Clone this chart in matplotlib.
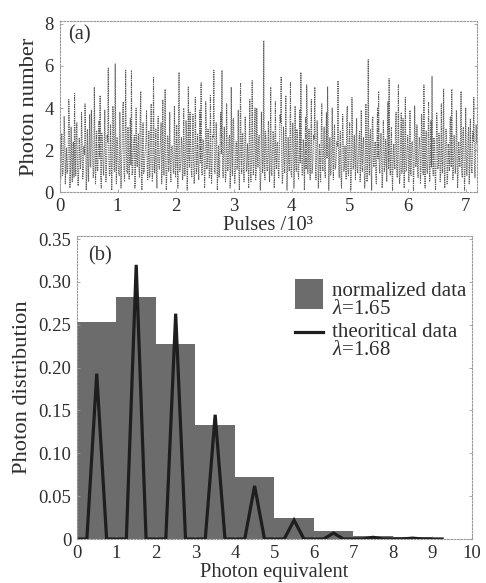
import matplotlib
matplotlib.use("Agg")
import matplotlib.pyplot as plt
from matplotlib.patches import Rectangle
from matplotlib.legend_handler import HandlerPatch, HandlerLine2D

plt.rcParams['font.family'] = 'serif'
plt.rcParams['font.serif'] = ['Liberation Serif', 'DejaVu Serif']
plt.rcParams['mathtext.fontset'] = 'custom'
plt.rcParams['mathtext.rm'] = 'Liberation Serif'
plt.rcParams['mathtext.it'] = 'Liberation Serif:italic'

# ---------------- data ----------------
# (a) photon number per pulse.
# photon_number_a: pulses 0, 20, 40, ...; photon_number_b: pulses 10, 30, 50, ...
pulse_step = 20
photon_number_a = [
    4.7, 0.6, 2.8, 0.9, 3.6, 0.4, 2.1, 1.0, 4.4, 0.2, 3.1, 0.5, 2.4, 4.7, 0.8, 3.3, 0.3, 2.6, 1.1, 3.8,
    0.6, 2.2, 4.2, 0.1, 3.0, 0.5, 3.7, 1.2, 2.5, 0.7, 5.0, 0.4, 2.9, 1.0, 3.4, 4.6, 0.2, 2.3, 0.8, 3.9,
    0.5, 2.7, 5.9, 0.8, 3.2, 0.1, 4.1, 1.1, 6.1, 0.4, 2.6, 0.9, 3.8, 0.2, 2.2, 4.3, 0.5, 5.8, 1.0, 3.1,
    0.6, 3.5, 5.8, 0.9, 2.4, 0.2, 4.0, 1.2, 2.8, 0.7, 4.8, 0.1, 3.3, 1.0, 2.1, 3.9, 0.6, 2.9, 0.8, 4.2,
    0.5, 5.5, 0.9, 3.0, 0.2, 3.6, 1.1, 2.5, 0.4, 4.4, 0.8, 4.9, 0.1, 2.7, 1.0, 3.8, 0.5, 2.2, 0.9, 4.1,
    0.7, 3.2, 0.2, 5.7, 1.0, 2.6, 0.6, 4.0, 0.8, 3.4, 0.1, 5.0, 1.2, 2.3, 0.7, 3.7, 0.4, 4.5, 0.9, 2.8,
    0.6, 3.9, 5.2, 0.8, 2.5, 0.2, 4.3, 1.1, 3.0, 0.7, 4.6, 0.4, 2.7, 5.8, 0.9, 3.3, 0.1, 2.2, 1.0, 3.8,
    5.8, 0.7, 3.1, 0.5, 4.2, 1.0, 2.6, 0.2, 5.0, 0.8, 3.5, 0.4, 2.4, 1.1, 3.9, 0.1, 5.2, 0.9, 2.8, 0.5,
    3.6, 1.0, 2.3, 0.2, 4.4, 0.5, 5.3, 0.8, 3.0, 0.6, 4.0, 1.2, 2.7, 0.1, 3.8, 0.9, 7.2, 0.6, 2.5, 1.0,
    3.4, 0.5, 5.0, 0.8, 2.9, 0.2, 4.3, 1.1, 2.4, 0.7, 3.7, 5.5, 0.4, 3.1, 0.9, 4.6, 0.1, 2.6, 1.0, 5.2,
    0.7, 3.3, 0.2, 4.1, 1.0, 2.8, 0.6, 3.9, 5.7, 0.8, 2.5, 0.1, 3.6, 5.1, 0.9, 3.0, 0.6, 4.4, 1.1, 2.7,
    5.0, 0.6, 3.4, 0.2, 2.3, 0.5, 4.2, 1.0, 3.1, 0.7, 3.8, 5.0, 0.1, 2.6, 0.9, 4.0, 0.6, 3.2, 1.2, 2.4,
    5.3, 0.7, 2.9, 0.2, 3.7, 1.0, 2.2, 0.6, 4.1, 0.8, 3.3, 0.1, 4.5, 1.1, 2.7, 0.6, 3.5, 0.9, 2.5, 0.5,
    3.9, 1.0, 2.6, 0.2, 4.2, 0.5, 6.3, 0.8, 3.0, 0.1, 3.6, 1.2, 2.4, 0.4, 4.0, 4.8, 0.9, 2.8, 0.2, 3.4,
    1.0, 2.5, 0.5, 4.3, 5.4, 0.8, 3.1, 0.1, 2.3, 1.1, 3.8, 0.7, 5.1, 0.4, 2.9, 0.9, 3.5, 0.2, 4.5, 1.0,
    2.7, 0.5, 3.9, 0.8, 2.4, 0.1, 4.1, 1.2, 3.2, 0.7, 2.6, 0.4, 3.7, 1.0, 5.1, 0.2, 2.9, 0.9, 4.3, 0.5,
    3.4, 5.5, 0.8, 2.5, 0.1, 3.8, 1.1, 2.8, 0.5, 4.2, 0.9, 4.9, 0.2, 3.0, 0.4, 2.3, 1.0, 3.6, 4.9, 0.6,
    2.7, 0.9, 3.9, 0.2, 2.4, 1.2, 4.8, 0.7, 3.1, 0.1, 4.0, 0.8, 2.6, 0.4, 3.5, 1.0, 2.9, 4.5, 0.7, 3.2,
]
photon_number_b = [
    1.4, 2.1, 0.8, 1.7, 2.6, 1.2, 0.9, 1.9, 3.4, 1.1, 1.6, 2.3, 0.7, 1.8, 2.9, 1.3, 0.9, 2.0, 1.5, 2.4,
    1.0, 1.8, 2.7, 0.8, 1.5, 2.2, 1.2, 3.9, 1.7, 0.9, 2.5, 1.4, 1.1, 2.0, 1.6, 0.8, 2.8, 1.3, 1.9, 2.3,
    1.2, 2.4, 1.6, 0.9, 2.0, 1.4, 3.1, 1.0, 1.8, 2.6, 1.3, 0.8, 2.2, 1.5, 4.1, 1.1, 1.7, 2.5, 0.9, 1.9,
    2.2, 1.3, 0.8, 1.9, 2.7, 1.1, 1.6, 2.3, 1.0, 3.6, 1.4, 2.0, 0.9, 1.7, 2.4, 1.2, 1.8, 0.7, 2.9, 1.5,
    1.1, 2.0, 1.6, 0.9, 2.5, 1.3, 1.9, 3.3, 1.0, 1.7, 2.2, 1.4, 0.8, 2.6, 1.5, 1.1, 2.1, 1.8, 0.9, 2.4,
    1.3, 1.8, 2.7, 1.0, 1.5, 2.3, 0.8, 1.9, 1.4, 2.8, 1.2, 1.7, 3.8, 1.0, 2.1, 1.5, 0.9, 2.4, 1.6, 1.2,
    2.0, 1.4, 0.9, 2.5, 1.7, 1.1, 3.2, 1.5, 2.2, 0.8, 1.9, 1.3, 2.6, 1.0, 1.6, 2.3, 1.2, 0.7, 2.9, 1.8,
    1.2, 2.2, 1.6, 0.9, 2.0, 1.4, 2.7, 1.1, 1.8, 3.5, 1.3, 0.9, 2.4, 1.5, 1.0, 2.1, 1.7, 2.8, 1.2, 1.9,
    2.3, 1.1, 1.7, 2.6, 0.9, 1.5, 2.0, 1.3, 4.0, 1.0, 1.8, 2.4, 1.2, 0.8, 2.2, 1.6, 1.1, 2.9, 1.4, 1.9,
    1.5, 2.1, 0.9, 1.8, 2.7, 1.2, 1.6, 2.3, 1.0, 1.9, 3.3, 1.4, 0.8, 2.0, 1.7, 2.5, 1.1, 1.5, 2.2, 0.9,
    1.8, 2.4, 1.2, 1.6, 3.0, 1.0, 1.9, 1.4, 2.6, 0.8, 2.1, 1.5, 1.1, 3.7, 1.7, 1.3, 2.3, 0.9, 1.8, 2.5,
    1.1, 1.7, 2.2, 0.9, 1.5, 2.8, 1.3, 1.9, 1.0, 2.4, 1.6, 3.1, 1.2, 0.8, 2.0, 1.4, 2.6, 1.1, 1.7, 2.2,
    1.4, 2.0, 0.8, 1.8, 2.5, 1.2, 1.6, 3.6, 1.0, 2.2, 1.5, 0.9, 2.7, 1.3, 1.9, 2.3, 1.1, 1.6, 2.9, 1.0,
    1.7, 2.3, 1.2, 0.9, 2.1, 1.5, 1.8, 2.6, 1.0, 3.4, 1.4, 1.9, 0.8, 2.4, 1.6, 1.2, 2.0, 1.7, 0.9, 2.5,
    1.3, 1.9, 2.7, 1.1, 1.6, 2.2, 0.9, 1.8, 1.4, 2.9, 1.2, 2.0, 1.5, 0.8, 3.8, 1.3, 1.7, 2.3, 1.0, 1.9,
    2.1, 1.4, 0.9, 2.4, 1.7, 1.2, 2.8, 1.5, 1.0, 1.9, 2.3, 1.3, 3.2, 0.8, 1.8, 2.5, 1.1, 1.6, 2.0, 1.4,
    1.2, 1.8, 2.6, 1.0, 1.5, 3.0, 1.3, 2.1, 0.9, 1.7, 2.4, 1.1, 1.9, 2.7, 0.8, 1.6, 3.5, 1.2, 2.2, 1.4,
    1.9, 1.3, 2.5, 0.9, 1.7, 2.2, 1.1, 2.8, 1.5, 1.0, 2.0, 1.6, 3.1, 1.2, 1.8, 0.9, 2.4, 1.4, 1.7, 2.3,
]

# (b) normalized histogram (bins of width 1 starting at 0..8)
bin_left = [0, 1, 2, 3, 4, 5, 6, 7, 8]
bin_height = [0.253, 0.282, 0.228, 0.133, 0.072, 0.025, 0.009, 0.004, 0.002]

# (b) theoretical curve (sampled every 0.25)
theo_x = [0, 0.25, 0.5, 0.75, 1.0, 1.25, 1.5, 1.75, 2.0, 2.25, 2.5, 2.75, 3.0, 3.25,
          3.5, 3.75, 4.0, 4.25, 4.5, 4.75, 5.0, 5.25, 5.5, 5.75, 6.0, 6.25, 6.5, 6.75,
          7.0, 7.25, 7.5, 7.75, 8.0, 8.25, 8.5, 8.75, 9.0, 9.25]
theo_y = [0, 0, 0.193, 0, 0, 0, 0.320, 0, 0, 0, 0.263, 0, 0, 0,
          0.145, 0, 0, 0, 0.062, 0, 0, 0, 0.022, 0, 0, 0, 0.007, 0,
          0, 0, 0.002, 0, 0, 0, 0.001, 0, 0, 0]

a_xticks = [0, 1000, 2000, 3000, 4000, 5000, 6000, 7000]
a_xticklabels = ['0', '1', '2', '3', '4', '5', '6', '7']
a_yticks = [0, 2, 4, 6, 8]
b_xticks = [0, 1, 2, 3, 4, 5, 6, 7, 8, 9, 10]
b_yticks = [0, 0.05, 0.10, 0.15, 0.20, 0.25, 0.30, 0.35]
b_yticklabels = ['0', '0.05', '0.10', '0.15', '0.20', '0.25', '0.30', '0.35']

# merge the two sampled series in pulse order
pulses, photons = [], []
for i, (va, vb) in enumerate(zip(photon_number_a, photon_number_b)):
    pulses += [i * pulse_step, i * pulse_step + pulse_step // 2]
    photons += [va, vb]

# ---------------- figure ----------------
W, H = 486, 583
fig = plt.figure(figsize=(W / 100, H / 100), dpi=100)

def frac(l, t, r, b):
    return [l / W, 1 - b / H, (r - l) / W, (b - t) / H]

ax1 = fig.add_axes(frac(59.5, 20.7, 477.3, 192.3))
ax2 = fig.add_axes(frac(77, 235.7, 471.7, 539))

tick_fs = 13.5
xlabel_fs = 14.8
ylabel_fs = 16.2
leg_fs = 15
txt_color = '#2e2e2e'

def style(ax):
    for s in ax.spines.values():
        s.set_linestyle((0, (1.5, 1.5)))
        s.set_color('#9a9a9a')
        s.set_linewidth(0.8)
    ax.tick_params(direction='in', length=2.5, width=0.6, color='#9a9a9a',
                   labelsize=tick_fs, labelcolor=txt_color, pad=4,
                   top=False, right=True)

# (a)
ax1.plot(pulses, photons, color='#5c5c5c', lw=0.75, linestyle=(0, (1.2, 1.0)))
ax1.set_xlim(0, 7200)
ax1.set_ylim(0, 8.15)
ax1.set_xticks(a_xticks)
ax1.set_xticklabels(a_xticklabels)
ax1.set_yticks(a_yticks)
style(ax1)
ax1.set_ylabel('Photon number', fontsize=ylabel_fs, color=txt_color, labelpad=4)
ax1.set_xlabel('Pulses /10³', fontsize=xlabel_fs, color=txt_color, labelpad=0.5)
ax1.text(0.02, 0.975, '(a)', transform=ax1.transAxes, fontsize=xlabel_fs,
         color=txt_color, va='top', ha='left')

# (b)
bars = ax2.bar(bin_left, bin_height, width=1.0, align='edge', color='#6c6c6c',
               edgecolor='none')
line, = ax2.plot(theo_x, theo_y, color='#1e1e1e', lw=2.3, solid_joinstyle='miter')
ax2.set_xlim(0, 10)
ax2.set_ylim(0, 0.354)
ax2.set_xticks(b_xticks)
ax2.set_yticks(b_yticks)
ax2.set_yticklabels(b_yticklabels)
style(ax2)
ax2.set_ylabel('Photon distribution', fontsize=ylabel_fs, color=txt_color, labelpad=5)
ax2.set_xlabel('Photon equivalent', fontsize=xlabel_fs, color=txt_color, labelpad=1)
ax2.text(0.028, 0.965, '(b)', transform=ax2.transAxes, fontsize=xlabel_fs,
         color=txt_color, va='top', ha='left')


def patch_func(legend, orig_handle, xdescent, ydescent, width, height, fontsize):
    return Rectangle((-xdescent, -0.1 * fontsize), width, 1.45 * fontsize)


class ShiftedLine(HandlerLine2D):
    def create_artists(self, legend, orig_handle, xdescent, ydescent, width,
                       height, fontsize, trans):
        arts = super().create_artists(legend, orig_handle, xdescent, ydescent,
                                      width, height, fontsize, trans)
        for a in arts:
            yd = a.get_ydata()
            a.set_ydata([0.8 * fontsize] * len(yd))
        return arts


bar_handle = bars.patches[0]
leg = ax2.legend(handles=[bar_handle, line],
                 labels=['normalized data\n$\\lambda$=1.65',
                         'theoritical data\n$\\lambda$=1.68'],
                 frameon=False, fontsize=leg_fs,
                 loc='upper left', bbox_to_anchor=(0.552, 0.848),
                 borderaxespad=0, borderpad=0, handlelength=1.35,
                 handletextpad=0.42, labelspacing=0.2,
                 handler_map={bar_handle: HandlerPatch(patch_func=patch_func),
                              line: ShiftedLine()})
for t in leg.get_texts():
    t.set_linespacing(0.92)
    t.set_color(txt_color)

fig.savefig('out.png', dpi=100)
